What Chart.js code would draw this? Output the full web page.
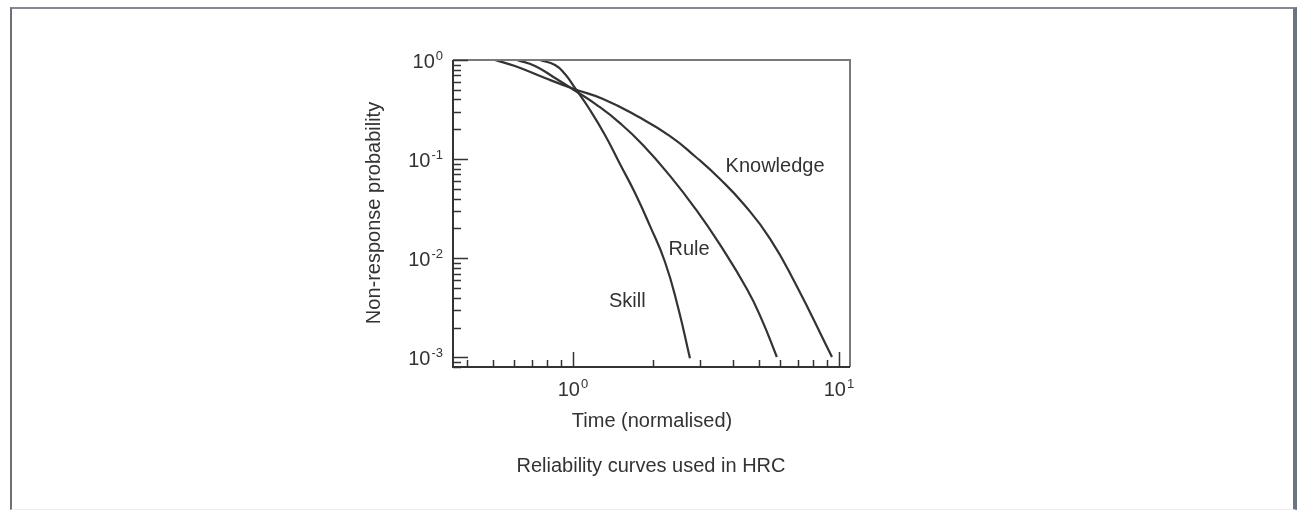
<!DOCTYPE html>
<html>
<head>
<meta charset="utf-8">
<title>Reliability curves used in HRC</title>
<script src="https://cdn.jsdelivr.net/npm/chart.js@4.4.1/dist/chart.umd.min.js"></script>
<style>
    body { margin: 0; background: #ffffff; }
    #frame {
        position: absolute; left: 10px; top: 7px; width: 1281px; height: 500px;
        border-left: 2px solid #6c7177; border-top: 2px solid #858a90;
        border-right: 4px solid #6c7480; border-bottom: 1px solid #ececec;
    }
    #reliabilityChart { position: absolute; left: 0; top: 0; }
</style>
</head>
<body>
<div id="frame"></div>
<canvas id="reliabilityChart" width="1300" height="513"></canvas>
<script>
// Curve data (normalised time, non-response probability)
const curveNames = ['Skill', 'Rule', 'Knowledge'];

const skillTime = [0.751, 0.856, 0.933, 1.017, 1.159, 1.319, 1.502, 1.711, 1.947, 2.218, 2.481, 2.753];
const skillProb = [1.0, 0.890, 0.722, 0.522, 0.313, 0.175, 0.0893, 0.0455, 0.0212, 0.00917, 0.00322, 0.00098];

const ruleTime = [0.616, 0.720, 0.856, 1.009, 1.231, 1.502, 1.832, 2.316, 2.900, 3.570, 4.507, 5.130, 5.84];
const ruleProb = [1.0, 0.870, 0.658, 0.498, 0.351, 0.231, 0.139, 0.0677, 0.0310, 0.0137, 0.00489, 0.00239, 0.00101];

const knowledgeTime = [0.509, 0.605, 0.785, 1.009, 1.297, 1.740, 2.316, 2.874, 3.570, 4.430, 5.502, 6.833, 9.412];
const knowledgeProb = [1.0, 0.870, 0.658, 0.510, 0.404, 0.272, 0.171, 0.107, 0.0630, 0.0340, 0.0158, 0.00565, 0.00101];

// Where each curve name sits (time, probability at text baseline)
const labelTime = [1.60, 2.73, 5.75];
const labelProb = [0.0032, 0.0108, 0.074];

// Axis ranges and decade tick labels
const timeMin = 0.354, timeMax = 11.0;
const probMin = 0.0008, probMax = 1.0;
const xDecades = [1, 10];
const xExponents = ['0', '1'];
const yDecades = [1, 0.1, 0.01, 0.001];
const yExponents = ['0', '-1', '-2', '-3'];

const INK = '#333333';
const FONT = '"Liberation Sans", Arial, Helvetica, sans-serif';

function toPoints(xs, ys) {
    return xs.map((x, i) => ({ x: x, y: ys[i] }));
}

// Draw "10" with a raised exponent; align = 'center' or 'right'
function drawPower(ctx, exp, px, baseline, align) {
    ctx.font = '20px ' + FONT;
    const baseW = ctx.measureText('10').width;
    ctx.font = '13px ' + FONT;
    const expW = ctx.measureText(exp).width;
    const total = baseW + expW + 1;
    let left = px - total / 2;
    if (align === 'right') left = px - total;
    ctx.textAlign = 'left';
    ctx.textBaseline = 'alphabetic';
    ctx.font = '20px ' + FONT;
    ctx.fillText('10', left, baseline);
    ctx.font = '13px ' + FONT;
    ctx.fillText(exp, left + baseW + 1, baseline - 8);
}

const axesPlugin = {
    id: 'axesPlugin',
    afterDatasetsDraw(chart) {
        const { ctx, chartArea: a, scales } = chart;
        const xs = scales.x, ys = scales.y;
        ctx.save();

        // Upper and right frame of the plot
        ctx.strokeStyle = '#7a7a7a';
        ctx.lineWidth = 2;
        ctx.beginPath();
        ctx.moveTo(a.left, a.top);
        ctx.lineTo(a.right, a.top);
        ctx.lineTo(a.right, a.bottom);
        ctx.stroke();

        // Left and bottom axes
        ctx.strokeStyle = INK;
        ctx.lineWidth = 2;
        ctx.beginPath();
        ctx.moveTo(a.left, a.top);
        ctx.lineTo(a.left, a.bottom);
        ctx.lineTo(a.right, a.bottom);
        ctx.stroke();

        // Inward ticks on the log axes
        ctx.lineWidth = 1.5;
        ctx.beginPath();
        for (let d = 0.1; d <= 10; d *= 10) {
            for (let m = 1; m <= 9; m++) {
                const v = d * m;
                if (v < timeMin || v > timeMax) continue;
                const px = Math.round(xs.getPixelForValue(v)) + 0.5;
                const len = m === 1 ? 15 : 7;
                ctx.moveTo(px, a.bottom);
                ctx.lineTo(px, a.bottom - len);
            }
        }
        for (let d = 0.0001; d <= 1; d *= 10) {
            for (let m = 1; m <= 9; m++) {
                const v = d * m;
                if (v < probMin || v > probMax * 1.0001) continue;
                const py = Math.round(ys.getPixelForValue(v)) + 0.5;
                const len = m === 1 ? 15 : 8;
                ctx.moveTo(a.left, py);
                ctx.lineTo(a.left + len, py);
            }
        }
        ctx.stroke();

        // Tick labels
        ctx.fillStyle = INK;
        xDecades.forEach((v, i) => {
            drawPower(ctx, xExponents[i], xs.getPixelForValue(v), 396, 'center');
        });
        yDecades.forEach((v, i) => {
            drawPower(ctx, yExponents[i], 443, ys.getPixelForValue(v) + 8, 'right');
        });

        // Curve names
        ctx.font = '20px ' + FONT;
        ctx.textAlign = 'center';
        ctx.textBaseline = 'alphabetic';
        curveNames.forEach((name, i) => {
            ctx.fillText(name, xs.getPixelForValue(labelTime[i]), ys.getPixelForValue(labelProb[i]));
        });

        // Axis titles and caption
        ctx.fillText('Time (normalised)', 652, 427);
        ctx.fillText('Reliability curves used in HRC', 651, 472);

        ctx.translate(380, 213);
        ctx.rotate(-Math.PI / 2);
        ctx.fillText('Non-response probability', 0, 0);

        ctx.restore();
    }
};

const lineStyle = {
    showLine: true,
    borderColor: INK,
    borderWidth: 2.2,
    pointRadius: 0,
    fill: false,
    tension: 0.5
};

new Chart(document.getElementById('reliabilityChart'), {
    type: 'scatter',
    data: {
        datasets: [
            Object.assign({ label: curveNames[0], data: toPoints(skillTime, skillProb) }, lineStyle),
            Object.assign({ label: curveNames[1], data: toPoints(ruleTime, ruleProb) }, lineStyle),
            Object.assign({ label: curveNames[2], data: toPoints(knowledgeTime, knowledgeProb) }, lineStyle)
        ]
    },
    options: {
        responsive: false,
        animation: false,
        layout: {
            padding: { left: 453, right: 450, top: 60, bottom: 146 }
        },
        plugins: {
            legend: { display: false },
            tooltip: { enabled: false }
        },
        scales: {
            x: { type: 'logarithmic', min: timeMin, max: timeMax, display: false },
            y: { type: 'logarithmic', min: probMin, max: probMax, display: false }
        }
    },
    plugins: [axesPlugin]
});
</script>
</body>
</html>
